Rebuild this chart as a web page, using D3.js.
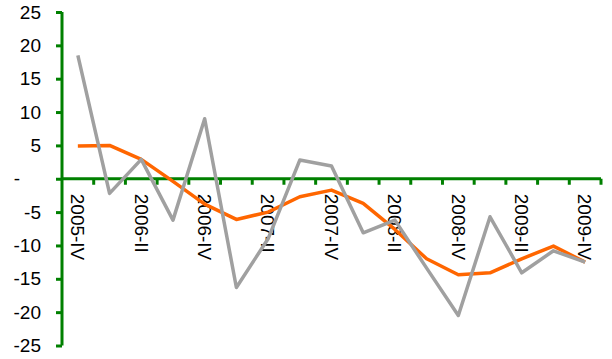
<!DOCTYPE html>
<html>
<head>
<meta charset="utf-8">
<script src="https://cdn.jsdelivr.net/npm/d3@7"></script>
<style>
  html, body { margin: 0; padding: 0; background: #fff; }
  svg { display: block; }
  text { font-family: "Liberation Sans", Arial, sans-serif; fill: #000; }
</style>
</head>
<body>
<svg id="chart" width="612" height="359"></svg>
<script>
const categories = ["2005-IV","2006-I","2006-II","2006-III","2006-IV","2007-I","2007-II","2007-III","2007-IV","2008-I","2008-II","2008-III","2008-IV","2009-I","2009-II","2009-III","2009-IV"];
const shownLabels = ["2005-IV","2006-II","2006-IV","2007-II","2007-IV","2008-II","2008-IV","2009-II","2009-IV"];
const orangeValues = [4.9, 5.0, 2.9, -0.4, -3.8, -6.1, -5.0, -2.7, -1.7, -3.7, -7.6, -12.0, -14.4, -14.1, -12.0, -10.1, -12.5];
const grayValues = [18.5, -2.2, 2.9, -6.2, 9.0, -16.3, -9.0, 2.8, 1.9, -8.1, -6.2, -13.4, -20.5, -5.7, -14.1, -10.8, -12.5];
const yTicks = [-25, -20, -15, -10, -5, 0, 5, 10, 15, 20, 25];

const svg = d3.select("#chart");
const pLeft = 62, pRight = 601, pTop = 12, pBottom = 345.5;
const green = "#008000";

const x = d3.scaleBand().domain(categories).range([pLeft, pRight]);
const y = d3.scaleLinear().domain([-25, 25]).range([pBottom, pTop]);

// Y axis
const yAxis = svg.append("g").attr("transform", `translate(${pLeft},0)`)
  .call(d3.axisLeft(y).tickValues(yTicks).tickSize(6).tickFormat(() => ""));
yAxis.select(".domain").attr("stroke", green).attr("stroke-width", 3).attr("d", `M0,${pTop}V${pBottom}`);
yAxis.selectAll(".tick line").attr("stroke", green).attr("stroke-width", 3);

svg.append("g").selectAll("text").data(yTicks).join("text")
  .attr("x", d => d === 0 ? 20 : 41)
  .attr("y", d => y(d))
  .attr("dy", "0.35em")
  .attr("text-anchor", "end")
  .style("font-size", "19px")
  .text(d => d === 0 ? "-" : String(d));

// X axis at zero
const xAxisG = svg.append("g").attr("transform", `translate(0,${y(0)})`);
xAxisG.append("line").attr("x1", pLeft).attr("x2", pRight).attr("y1", 0).attr("y2", 0)
  .attr("stroke", green).attr("stroke-width", 3);
const tickPositions = categories.map(c => x(c)).concat([x(categories[categories.length - 1]) + x.bandwidth()]);
xAxisG.selectAll("line.tk").data(tickPositions.slice(1)).join("line").attr("class", "tk")
  .attr("x1", d => d).attr("x2", d => d).attr("y1", 0).attr("y2", 6)
  .attr("stroke", green).attr("stroke-width", 3);

xAxisG.selectAll("text").data(shownLabels).join("text")
  .attr("transform", d => `translate(${x(d) + x.bandwidth() / 2},15) rotate(90)`)
  .attr("dy", "0.35em")
  .attr("text-anchor", "start")
  .style("font-size", "19px")
  .text(d => d);

// Lines
const line = d3.line().x((d, i) => x(categories[i]) + x.bandwidth() / 2).y(d => y(d));
svg.append("path").datum(orangeValues).attr("d", line)
  .attr("fill", "none").attr("stroke", "#FF6600").attr("stroke-width", 3.5).attr("stroke-linejoin", "round");
svg.append("path").datum(grayValues).attr("d", line)
  .attr("fill", "none").attr("stroke", "#A0A0A0").attr("stroke-width", 3.5).attr("stroke-linejoin", "round");
</script>
</body>
</html>
